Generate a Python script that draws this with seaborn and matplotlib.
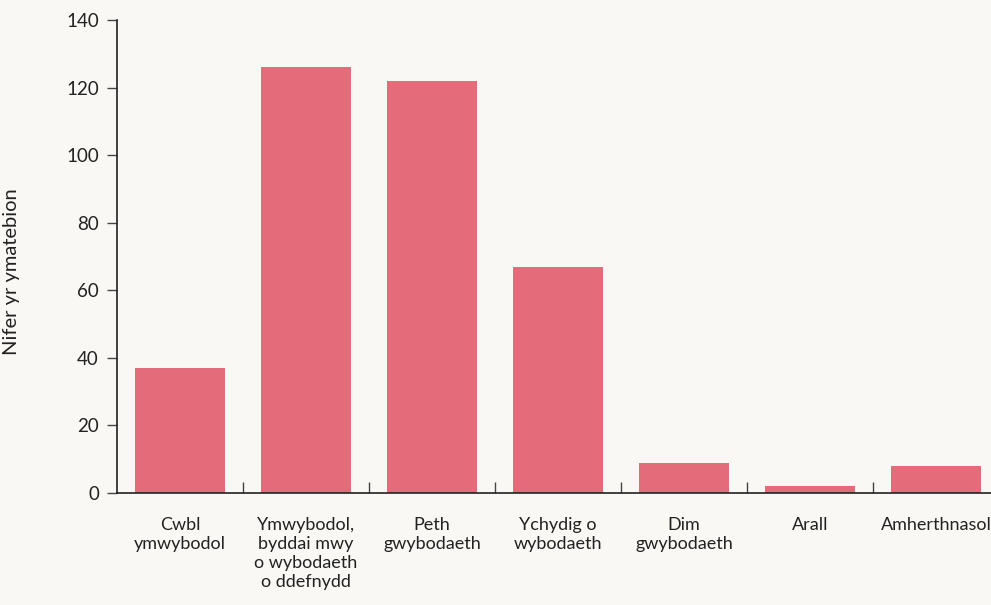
import matplotlib
matplotlib.use("Agg")
import matplotlib.pyplot as plt
import seaborn as sns
import pandas as pd
import numpy as np

# Data
categories = ['Cwbl\nymwybodol', 'Ymwybodol,\nbyddai mwy\no wybodaeth\no ddefnydd',
              'Peth\ngwybodaeth', 'Ychydig o\nwybodaeth', 'Dim\ngwybodaeth',
              'Arall', 'Amherthnasol']
counts = [37, 126, 122, 67, 9, 2, 8]
y_ticks = [0, 20, 40, 60, 80, 100, 120, 140]

df = pd.DataFrame({'category': categories, 'count': counts})

bg = '#f9f8f5'
sns.set_theme(style='ticks')
plt.rcParams['font.family'] = ['Lato', 'DejaVu Sans']

fig = plt.figure(figsize=(9.91, 6.05), dpi=100, facecolor=bg)
ax = fig.add_axes([117 / 991, 112 / 605, 882 / 991, 473 / 605])
ax.set_facecolor(bg)

sns.barplot(data=df, x='category', y='count', color='#e36b7a',
            width=0.72, saturation=1, linewidth=0, ax=ax)

ax.set_xlim(-0.5, len(categories) - 0.5)
ax.set_ylim(0, 140)
ax.set_yticks(y_ticks)
ax.set_xlabel('')
ax.set_ylabel('Nifer yr ymatebion', fontsize=14.5, color='#222222')
# put the label centre about 20px from the left edge
ax.yaxis.set_label_coords((20 - 117) / 882, 0.469)

# category separator ticks on the x axis
ax.set_xticks(np.arange(0.5, len(categories) - 0.5), minor=True)
ax.tick_params(axis='x', which='major', length=0, pad=17, labelsize=13,
               colors='#222222')
ax.tick_params(axis='x', which='minor', direction='in', length=8,
               width=1, color='#444444')
ax.tick_params(axis='y', length=7, width=1, labelsize=13.5, colors='#222222',
               pad=6)
ax.tick_params(axis='y', color='#444444')

for s in ['top', 'right']:
    ax.spines[s].set_visible(False)
for s in ['left', 'bottom']:
    ax.spines[s].set_color('#222222')
    ax.spines[s].set_linewidth(1.2)

for lbl in ax.get_xticklabels():
    lbl.set_verticalalignment('top')
    lbl.set_linespacing(1.25)

fig.savefig('out.png', dpi=100, facecolor=bg)
